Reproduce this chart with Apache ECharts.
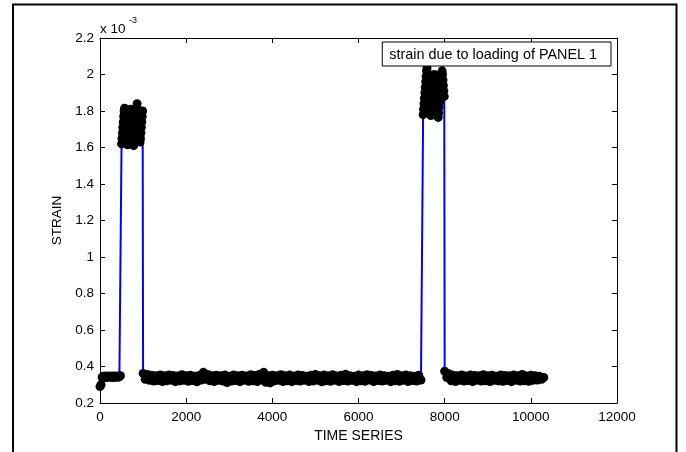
<!DOCTYPE html>
<html>
<head>
<meta charset="utf-8">
<script src="https://cdn.jsdelivr.net/npm/echarts@6/dist/echarts.min.js"></script>
<style>html,body{margin:0;padding:0;background:#fff}#c{width:686px;height:452px}</style>
</head>
<body>
<div id="c"></div>
<script>
// Strain values in units of 1e-3 (axis shows "x 10^-3")
// Segment A: unloaded, samples 0..475 every 25
const segAStart = 0, segAStep = 25;
const segA = [0.290, 0.300, 0.340, 0.347, 0.341, 0.348, 0.340, 0.346, 0.342, 0.348,
              0.341, 0.347, 0.340, 0.348, 0.342, 0.346, 0.341, 0.348, 0.343, 0.350];
// Segment B: loaded, samples 500..990 every 10
const segBStart = 500, segBStep = 10;
const segB = [1.620, 1.650, 1.680, 1.710, 1.740, 1.770, 1.800, 1.815, 1.790, 1.760,
              1.730, 1.700, 1.670, 1.640, 1.615, 1.640, 1.670, 1.700, 1.730, 1.760,
              1.790, 1.810, 1.780, 1.750, 1.720, 1.690, 1.660, 1.630, 1.610, 1.640,
              1.670, 1.700, 1.730, 1.760, 1.790, 1.820, 1.840, 1.810, 1.780, 1.750,
              1.720, 1.690, 1.660, 1.630, 1.650, 1.680, 1.710, 1.740, 1.770, 1.800];
// Segment C: unloaded, samples 1000..7450 every 50
const segCStart = 1000, segCStep = 50;
const segC = [0.362, 0.330, 0.356, 0.324, 0.352, 0.320, 0.350, 0.323, 0.354, 0.318,
              0.349, 0.322, 0.353, 0.325, 0.351, 0.317, 0.348, 0.321, 0.355, 0.324,
              0.350, 0.319, 0.352, 0.323, 0.347, 0.316, 0.351, 0.326, 0.368, 0.330,
              0.356, 0.322, 0.350, 0.318, 0.352, 0.324, 0.349, 0.320, 0.353, 0.312,
              0.346, 0.320, 0.354, 0.323, 0.350, 0.317, 0.352, 0.325, 0.348, 0.319,
              0.355, 0.322, 0.351, 0.318, 0.358, 0.326, 0.368, 0.314, 0.350, 0.310,
              0.352, 0.321, 0.349, 0.324, 0.355, 0.318, 0.350, 0.322, 0.353, 0.317,
              0.348, 0.323, 0.354, 0.320, 0.351, 0.325, 0.347, 0.318, 0.352, 0.321,
              0.356, 0.324, 0.349, 0.316, 0.353, 0.322, 0.350, 0.319, 0.355, 0.325,
              0.348, 0.318, 0.352, 0.323, 0.357, 0.320, 0.350, 0.324, 0.346, 0.317,
              0.353, 0.322, 0.349, 0.319, 0.355, 0.326, 0.351, 0.318, 0.348, 0.323,
              0.354, 0.320, 0.350, 0.324, 0.347, 0.317, 0.352, 0.322, 0.356, 0.319,
              0.349, 0.325, 0.353, 0.318, 0.350, 0.323, 0.346, 0.320, 0.352, 0.326];
// Segment D: loaded, samples 7500..7990 every 10
const segDStart = 7500, segDStep = 10;
const segD = [1.780, 1.810, 1.840, 1.870, 1.900, 1.930, 1.960, 1.990, 2.020, 2.035,
              2.010, 1.980, 1.950, 1.920, 1.890, 1.860, 1.830, 1.800, 1.775, 1.790,
              1.820, 1.850, 1.880, 1.910, 1.940, 1.970, 2.000, 1.990, 1.960, 1.930,
              1.900, 1.870, 1.840, 1.810, 1.780, 1.765, 1.790, 1.820, 1.850, 1.880,
              1.910, 1.940, 1.970, 2.000, 2.020, 2.000, 1.970, 1.940, 1.910, 1.880];
// Segment E: unloaded, samples 8000..10300 every 50
const segEStart = 8000, segEStep = 50;
const segE = [0.374, 0.340, 0.360, 0.322, 0.352, 0.318, 0.350, 0.324, 0.354, 0.320,
              0.348, 0.323, 0.353, 0.317, 0.351, 0.325, 0.349, 0.320, 0.355, 0.322,
              0.350, 0.318, 0.352, 0.324, 0.347, 0.321, 0.354, 0.319, 0.351, 0.323,
              0.349, 0.317, 0.353, 0.325, 0.350, 0.320, 0.356, 0.322, 0.348, 0.319,
              0.352, 0.324, 0.349, 0.326, 0.346, 0.330, 0.340];

const xTicks = [0, 2000, 4000, 6000, 8000, 10000, 12000];
const yTicks = [0.2, 0.4, 0.6, 0.8, 1, 1.2, 1.4, 1.6, 1.8, 2, 2.2];
const seriesName = 'strain due to loading of PANEL 1';
const xName = 'TIME SERIES';
const yName = 'STRAIN';

function build(start, step, vals) { return vals.map((v, i) => [start + i * step, v]); }
const data = [].concat(
  build(segAStart, segAStep, segA),
  build(segBStart, segBStep, segB),
  build(segCStart, segCStep, segC),
  build(segDStart, segDStep, segD),
  build(segEStart, segEStep, segE)
);

const FONT = 'Liberation Sans, Arial, sans-serif';
const axisCommon = {
  axisLine: { show: true, onZero: false, lineStyle: { color: '#000', width: 1 } },
  axisTick: { show: true, inside: true, length: 5, lineStyle: { color: '#000' } },
  splitLine: { show: false }
};

const chart = echarts.init(document.getElementById('c'), null, { renderer: 'canvas' });
chart.setOption({
  animation: false,
  backgroundColor: '#fff',
  grid: { left: 100, right: 69, top: 38, bottom: 49, containLabel: false },
  xAxis: [
    Object.assign({
      type: 'value', position: 'bottom', min: xTicks[0], max: xTicks[xTicks.length - 1], interval: 2000,
      name: xName, nameLocation: 'middle', nameGap: 23,
      nameTextStyle: { fontFamily: FONT, fontSize: 14, color: '#000' },
      axisLabel: { fontFamily: FONT, fontSize: 13.5, color: '#000', margin: 7,
        formatter: v => String(v) }
    }, axisCommon),
    Object.assign({
      type: 'value', position: 'top', min: xTicks[0], max: xTicks[xTicks.length - 1], interval: 2000,
      axisLabel: { show: false }
    }, axisCommon)
  ],
  yAxis: [
    Object.assign({
      type: 'value', position: 'left', min: yTicks[0], max: yTicks[yTicks.length - 1], interval: 0.2,
      name: yName, nameLocation: 'middle', nameGap: 31,
      nameTextStyle: { fontFamily: FONT, fontSize: 13.5, color: '#000' },
      axisLabel: { fontFamily: FONT, fontSize: 13.5, color: '#000', margin: 6,
        formatter: v => String(+v.toFixed(1)) }
    }, axisCommon),
    Object.assign({
      type: 'value', position: 'right', min: yTicks[0], max: yTicks[yTicks.length - 1], interval: 0.2,
      axisLabel: { show: false }
    }, axisCommon)
  ],
  legend: {
    data: [seriesName],
    right: 75, top: 42,
    orient: 'vertical',
    backgroundColor: '#fff',
    borderColor: '#000', borderWidth: 1,
    padding: [6, 14, 4, 1],
    itemWidth: 0, itemHeight: 0,
    itemStyle: { opacity: 0 }, lineStyle: { opacity: 0 },
    textStyle: { fontFamily: FONT, fontSize: 14.4, color: '#000', lineHeight: 14 },
    selectedMode: false
  },
  series: [{
    name: seriesName,
    type: 'line',
    xAxisIndex: 0, yAxisIndex: 0,
    data: data,
    clip: false,
    symbol: 'circle',
    symbolSize: 9,
    showSymbol: true,
    itemStyle: { color: '#000', borderColor: '#000', borderWidth: 0 },
    lineStyle: { color: '#0000ff', width: 2 },
    emphasis: { disabled: true }
  }],
  graphic: [
    { type: 'rect', shape: { x: 13, y: 4.5, width: 663.5, height: 470 },
      style: { fill: 'none', stroke: '#000', lineWidth: 2 }, silent: true, z: 100 },
    { type: 'text', left: 100, top: 22,
      style: { text: 'x 10', fontFamily: FONT, fontSize: 13.5, fill: '#000' } },
    { type: 'text', left: 129, top: 16,
      style: { text: '-3', fontFamily: FONT, fontSize: 9, fill: '#000' } }
  ]
});
</script>
</body>
</html>
